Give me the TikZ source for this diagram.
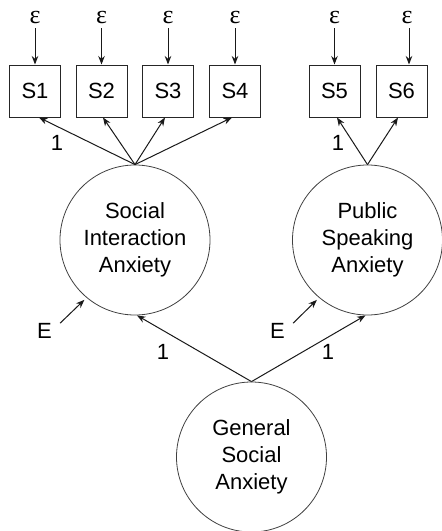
\documentclass[tikz,border=0pt]{standalone}
\usepackage{fontspec}
\setmainfont{Liberation Sans}
\newfontfamily\epsfont{Liberation Serif}
\usetikzlibrary{arrows.meta}
\begin{document}
\begin{tikzpicture}[x=1pt,y=-1pt,
  font=\fontsize{22}{27}\selectfont,
  obs/.style={draw=black!85, line width=1pt, minimum width=51pt, minimum height=52pt, inner sep=0pt},
  lat/.style={draw=black!75, circle, line width=0.8pt, minimum size=150pt, inner sep=0pt, align=center},
  arr/.style={-{Stealth[length=8.5pt,width=6.5pt]}, line width=1pt, black!90},
  errs/.style={inner sep=1pt, font=\epsfont\fontsize{26}{30}\selectfont},
  lbl/.style={inner sep=0pt}]
\useasboundingbox (0,0) rectangle (442,531);

% observed indicators
\node[obs] (s1) at (35,91) {S1};
\node[obs] (s2) at (101.5,91) {S2};
\node[obs] (s3) at (168,91) {S3};
\node[obs] (s4) at (235,91) {S4};
\node[obs] (s5) at (334.5,91) {S5};
\node[obs] (s6) at (401.5,91) {S6};

% error terms
\node[errs] (e1) at (35,17) {ε};
\node[errs] (e2) at (101.5,17) {ε};
\node[errs] (e3) at (168,17) {ε};
\node[errs] (e4) at (235,17) {ε};
\node[errs] (e5) at (334.5,17) {ε};
\node[errs] (e6) at (407,17) {ε};

\foreach \i in {1,...,5}{
  \draw[arr, shorten <=4pt] (e\i.south) -- (s\i.north);
}
\draw[arr, shorten <=4pt] ([xshift=2pt]e6.south) -- ([xshift=2pt]e6.south |- s6.north);

% latent factors
\node[lat] (sia) at (135,240) {Social\\Interaction\\Anxiety};
\node[lat] (psa) at (367.5,240) {Public\\Speaking\\Anxiety};
\node[lat] (gsa) at (251.5,457) {General\\Social\\Anxiety};

% loadings
\draw[arr] (sia.north) -- ([xshift=4pt]s1.south);
\draw[arr] (sia.north) -- ([xshift=1.5pt]s2.south);
\draw[arr] (sia.north) -- ([xshift=-3pt]s3.south);
\draw[arr] (sia.north) -- ([xshift=-3pt]s4.south);
\draw[arr] (psa.north) -- ([xshift=2.5pt]s5.south);
\draw[arr] (psa.north) -- ([xshift=-3.5pt]s6.south);

\draw[arr] (gsa.north) -- ([xshift=2pt]sia.south);
\draw[arr] (gsa.north) -- ([xshift=-2pt]psa.south);

% disturbances
\node[lbl] (E1) at (44.5,331) {E};
\node[lbl] (E2) at (277.5,331) {E};
\draw[arr, shorten >=3pt] ([xshift=8pt]E1.north east) -- (sia.230);
\draw[arr, shorten >=3pt] ([xshift=8pt]E2.north east) -- (psa.230);

% loading labels
\node[lbl] (l1) at (57,143) {1};
\node[lbl] (l2) at (338,143) {1};
\node[lbl] (l3) at (163,352) {1};
\node[lbl] (l4) at (328,352) {1};
\end{tikzpicture}
\end{document}
